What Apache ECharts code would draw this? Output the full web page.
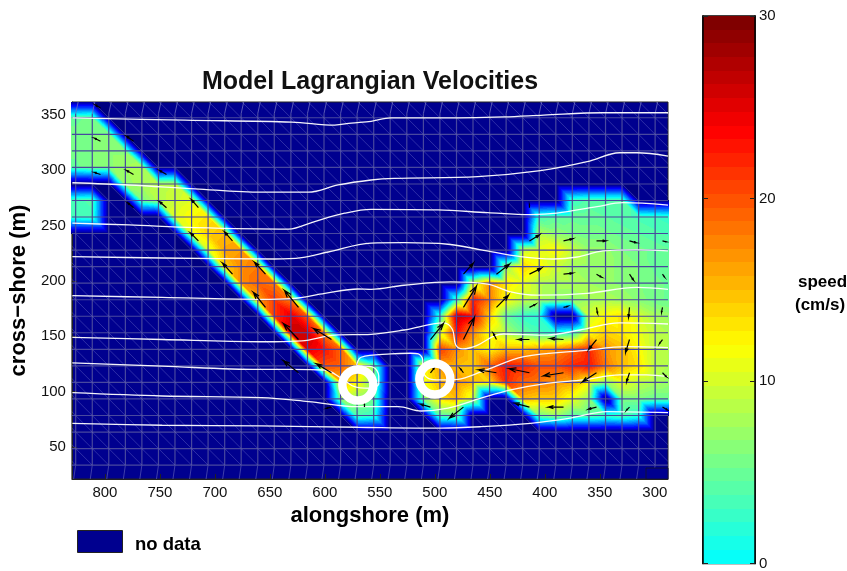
<!DOCTYPE html>
<html><head><meta charset="utf-8">
<style>html,body{margin:0;padding:0;background:#fff}#c{width:847px;height:571px}</style>
<script src="https://cdn.jsdelivr.net/npm/echarts@6/dist/echarts.min.js"></script>
</head><body><div id="c"></div>
<script>
// mesh nodes (m)
const xNodes=[841.6,826.6,811.5,796.5,781.4,766.4,751.3,736.3,721.2,706.2,691.1,676.1,661,646,630.9,615.8,600.8,585.7,570.7,555.6,540.6,525.5,510.4,495.4,480.3,465.3,450.2,435.2,420.1,405.1,390,375,359.9,344.8,329.8,314.7,299.7,284.6];
const yNodes=[362.1,347.2,332.2,317.3,302.4,287.4,272.5,257.6,242.7,227.7,212.8,197.9,182.9,168,153.1,138.1,123.2,108.3,93.4,78.4,63.5,48.6,33.6];
// speed (cm/s) per mesh row: segments of [first column, values...]; everything else is "no data"
const speedRows=[
 [],
 [[0,5,5,5.5]],
 [[0,5.5,5.5,6,6]],
 [[0,5.5,5.5,6,6.5,6.5]],
 [[0,5,5,6,6.5,7.5,8]],
 [[4,7,8,8.5,9]],
 [[0,3.5,3.5,4],[5,6,8.5,9.5,10.5],[31,3,4,4,4]],
 [[0,3,3,3.5],[7,10.5,12,13],[29,3.5,4.5,5,5,4.5,4,3.5,3,2.5]],
 [[8,11,14,15],[29,8.5,7,6,5.5,5.5,5,4.5,4,3.5]],
 [[9,10,16,16.5],[28,10,11,12,9.5,7,7,6,5.5,5,4.5]],
 [[10,14,17,18],[27,8,14,12,9.5,7.5,7,7,6.5,6,5,4.5]],
 [[11,17,19,18],[25,10,17,13,11,8.5,8,8,7.5,7,6.5,6,5.5,5]],
 [[12,16,21,18],[24,4,23,18,12,9,8.5,7,6.5,7.5,8,7.5,6.5,5.5,5]],
 [[13,21,25,20],[23,3,27,24,14,5,2.5,2],[32,10,12,13,10,8,7]],
 [[14,26,26,18],[23,10,23,17,11,8,5,3.5,2,3,12,14,13,11,9,8]],
 [[15,25,23,19],[23,21,17,14,12,15,15,16,17,19,22,17,15,12,9,8]],
 [[16,20,19,15,6],[22,12,16,15,14,19,23,22,20,20,22,23,18,15,13,9,8]],
 [[17,15,12,6],[22,11,15,17,15,14,22,19,18,17,16,12,7,11,9,8,7]],
 [[17,7,7,5],[22,6,13,15,10],[28,15,14,14,11,7],[34,6,6,5,5]],
 [[18,3.5,2.5],[23,4,5],[29,5,7,4,4,3,4,2]],
 [],[],[]
];
// depth contours: [alongshore m, cross-shore m]
const contour1=[[829.6,347],[727,345],[630,343.3],[591,340.6],[576,342.4],[558,344],[540,347],[497,347],[437,348],[401,349.6],[347,351.7],[288,351.7]];
const contour2=[[829.6,288.5],[778,286.5],[718,283],[657.5,280],[615,280],[588,286.5],[558,291],[537,292.5],[461,294],[404,299.4],[361.5,307.5],[332,315.6],[316.5,315.6],[288,312.6]];
const contour3=[[829.6,252],[778,250.4],[718,248],[633,246.7],[610,253.3],[582,261],[558,264.5],[497,264],[452,261.5],[413,259.7],[389,261],[352.5,267],[329,270.5],[288,268.4]];
const contour4=[[829.6,221.8],[748,220.6],[646,219.7],[621,221],[597,226],[558,234],[528,234.4],[488,233],[458,228],[422,221.8],[392,219.7],[370.5,221.5],[347,227],[316.5,228],[288,227]];
const contour5=[[829.6,186.6],[748,185],[660,183.3],[630,184],[600,188.7],[570,192.6],[558,192.3],[528,196],[485.5,199],[452,197],[431,190],[407,187],[361.5,188.7],[316.5,194],[288,192.3]];
const contour6=[[829.6,149],[748,147],[660,145],[646,145],[621,145.7],[591,151],[558,151.7],[528,155.6],[492,162],[484,156],[481,142],[474.5,138.5],[461,142],[446.5,150],[437.5,152],[398,151],[368,155.6],[332,162],[288,161]];
const contour7=[[829.6,126],[748,123],[660,120],[630,120],[600,119.5],[585,112],[573,104.4],[560,103],[551,107],[551,114],[556,122],[571,124],[567,131],[540,134],[522,134.6],[515,134],[511,128.5],[511,119.5],[506,112],[494.5,110.5],[479,111],[458,117.7],[419,131.5],[365,137],[325.5,140.5],[288,139.6]];
const contour8=[[829.6,99],[748,96],[657.5,94.5],[615,91],[570,86.4],[533,86.4],[512.5,82.5],[488,85],[458,94],[431,101.5],[398,107.5],[365,110.5],[332,115],[307.5,115],[288,113.5]];
const contour9=[[829.6,71.4],[748,69.6],[657.5,69],[570,67.8],[494.5,67],[458,68.3],[413,71.4],[377,76],[343.5,81.9],[288,81]];
// arrows: [x, y, dx, dy] in metres
const arrows=[[804,356,4.5,2.7],[804,326,5.4,2.7],[774,326,6.3,4.5],[804,296,5.4,1.8],[774,296,6.3,3.6],[744,296,6.3,3.6],[774,266,5.4,4.5],[744,266,6.3,5.4],[715,266,6.3,7.2],[715,236,7.2,7.2],[684,236,7.2,8.1],[684,206,9,10],[654,206,10,10.8],[654,176,10.9,13.5],[624,176,12.7,15.3],[624,147,13.6,14.4],[594,147,16.3,9.9],[624,117,13.6,10.8],[594,117,13.6,8.1],[594,86,4.5,-0.9],[564,86,0,2.7],[504,147,-11.8,14.4],[474,176,-11.8,19],[474,147,-10,19.9],[504,117,-3.6,4.5],[474,117,2.7,3.6],[504,86,9,2.7],[474,86,12.7,-9.9],[414,236,-9,5.4],[383,236,-8.2,1.8],[353,236,-8.2,0],[323,236,-6.3,-1.8],[293,236,-3.6,-0.9],[474,206,-9,9.9],[444,206,-11.8,9],[414,206,-10.9,5.4],[383,206,-8.2,0.9],[353,206,-4.5,-2.7],[323,206,-3.6,-5.4],[293,206,-1.8,-2.7],[444,176,-10.9,10.8],[414,176,-5.4,2.7],[383,176,-3.6,0.9],[353,176,-0.9,-5.4],[323,176,0.9,-9],[293,176,0.9,-4.5],[444,147,2.7,5.4],[414,147,10,0],[383,147,11.8,0.9],[353,147,7.2,-9],[323,147,3.6,-11.7],[293,147,2.7,-3.6],[444,117,16.3,2.7],[414,117,18.1,3.6],[383,117,18.1,-2.7],[353,117,12.7,-8.1],[323,117,2.7,-8.1],[293,117,-3.6,-3.6],[414,86,13.6,3.6],[383,86,13.6,0],[353,86,7.2,-1.8],[323,86,2.7,-2.7],[293,86,-4.5,-2.7],[414,266,0,2.7]];
const instruments=[[570,106],[500,111.4]];
const xTicks=[300,350,400,450,500,550,600,650,700,750,800];
const yTicks=[50,100,150,200,250,300,350];
const barTicks=[0,10,20,30];

// ---- colour
const NODATA='#00008F';
function clamp(v){return Math.max(0,Math.min(1,v));}
function jet(t){
  t=Math.min(63,Math.floor(t*64))/63;
  return [clamp(Math.min(4*t-1.5,-4*t+4.5)),clamp(Math.min(4*t-0.5,-4*t+3.5)),clamp(Math.min(4*t+0.5,-4*t+2.5))].map(c=>Math.round(c*255));
}
function speedToT(v){return v==null?0:0.375+0.625*v/30;}

// ---- expand the segments to a full table
const speed=speedRows.map(segs=>{
  const row=new Array(xNodes.length).fill(null);
  segs.forEach(s=>{for(let i=1;i<s.length;i++)row[s[0]+i-1]=s[i];});
  return row;
});
const cells=[],diag=[];
for(let r=0;r<yNodes.length-1;r++)for(let c=0;c<xNodes.length-1;c++){
  const a=speed[r][c],b=speed[r][c+1],d=speed[r+1][c],e=speed[r+1][c+1];
  if(a!=null||b!=null||d!=null||e!=null)cells.push([c,r]);
  if(a==null&&b==null&&e==null||a==null&&d==null&&e==null)diag.push([c,r]);
}
function renderCell(params,api){
  const c=api.value(0),r=api.value(1);
  const p0=api.coord([xNodes[c],yNodes[r]]),p1=api.coord([xNodes[c+1],yNodes[r+1]]);
  const x0=Math.round(p0[0]),y0=Math.round(p0[1]),w=Math.round(p1[0])-x0,h=Math.round(p1[1])-y0;
  const tl=speedToT(speed[r][c]),tr=speedToT(speed[r][c+1]),bl=speedToT(speed[r+1][c]),br=speedToT(speed[r+1][c+1]);
  const cv=document.createElement('canvas');cv.width=w;cv.height=h;
  const g=cv.getContext('2d'),im=g.createImageData(w,h);
  for(let j=0;j<h;j++)for(let i=0;i<w;i++){
    const u=(i+.5)/w,v=(j+.5)/h;
    const t=u>v? tl+u*(tr-tl)+v*(br-tr) : tl+v*(bl-tl)+u*(br-bl);
    const col=jet(t),k=4*(j*w+i);
    im.data[k]=col[0];im.data[k+1]=col[1];im.data[k+2]=col[2];im.data[k+3]=255;
  }
  g.putImageData(im,0,0);
  return {type:'image',style:{image:cv,x:x0,y:y0,width:w,height:h}};
}
const LINE='rgb(72,72,158)';
function seg(a,b,stroke,lw){return {type:'line',shape:{x1:a[0],y1:a[1],x2:b[0],y2:b[1]},style:{stroke:stroke,lineWidth:lw,fill:null}};}
const XMIN=288,XMAX=830,YMIN=21.1,YMAX=361.4;
const meshItems=[];
xNodes.forEach((_,i)=>meshItems.push([0,i,0]));
yNodes.forEach((_,j)=>meshItems.push([1,j,0]));
diag.forEach(d=>meshItems.push([2,d[0],d[1]]));
function renderMesh(params,api){
  const kind=api.value(0);
  if(kind===0){
    const x=xNodes[api.value(1)];
    const a=api.coord([x,351]),b=api.coord([x,yNodes[22]]);
    const top=api.coord([x,YMAX]),bot=api.coord([x,YMIN]);
    return {type:'group',children:[seg(a,b,LINE,1.2),seg(a,[top[0]+2.5,top[1]],'rgba(110,110,190,.8)',1),seg(b,[bot[0]-2,bot[1]],'rgba(90,90,180,.7)',1)]};
  }
  if(kind===1){
    const y=yNodes[api.value(1)];
    return seg(api.coord([XMAX,y]),api.coord([XMIN,y]),LINE,1.2);
  }
  const c=api.value(1),r=api.value(2);
  return seg(api.coord([xNodes[c],yNodes[r]]),api.coord([xNodes[c+1],yNodes[r+1]]),'rgba(130,130,210,.45)',0.8);
}
function renderArrow(params,api){
  const x=api.value(0),y=api.value(1),a=api.coord([x,y]),b=api.coord([x+api.value(2),y+api.value(3)]);
  const dx=b[0]-a[0],dy=b[1]-a[1],al=.33,be=.33;
  const p1=[b[0]-al*(dx+be*dy),b[1]-al*(dy-be*dx)],p2=[b[0]-al*(dx-be*dy),b[1]-al*(dy+be*dx)];
  return {type:'polyline',shape:{points:[a,b,p1,b,p2]},style:{stroke:'#000',lineWidth:1.2,fill:null}};
}
function renderScaleBox(params,api){
  const a=api.coord([api.value(0),api.value(1)]),b=api.coord([XMIN,YMIN]);
  return {type:'rect',shape:{x:a[0],y:a[1],width:b[0]-a[0],height:b[1]-a[1]},style:{fill:NODATA,stroke:'#10103a',lineWidth:1}};
}
// colour bar bands
const barLevels=[];
for(let i=0;i<40;i++)barLevels.push([i*0.75,(i+1)*0.75]);
function renderBar(params,api){
  const a=api.coord([0,api.value(1)]),b=api.coord([1,api.value(0)]);
  const col=jet(speedToT((api.value(0)+api.value(1))/2));
  const y0=Math.round(a[1]),y1=Math.round(b[1]);
  return {type:'rect',shape:{x:a[0],y:y0,width:b[0]-a[0],height:y1-y0},style:{fill:'rgb('+col.join(',')+')'}};
}
const FONT='"Liberation Sans", Arial, sans-serif';
const contours=[contour1,contour2,contour3,contour4,contour5,contour6,contour7,contour8,contour9];
const chart=echarts.init(document.getElementById('c'),null,{renderer:'canvas'});
chart.setOption({
  animation:false,
  backgroundColor:'#fff',
  textStyle:{fontFamily:FONT},
  title:{text:'Model Lagrangian Velocities',left:365,top:65,textAlign:'center',textStyle:{fontFamily:FONT,fontSize:25,fontWeight:'bold',color:'#111'}},
  grid:[
    {left:69.5,top:102,width:598.5,height:377,show:true,backgroundColor:NODATA,borderColor:'#222',borderWidth:1,containLabel:false},
    {left:703,top:16,width:52,height:550,show:true,backgroundColor:'#fff',borderColor:'#000',borderWidth:1.5}
  ],
  xAxis:[
    {gridIndex:0,type:'value',inverse:true,min:XMIN,max:XMAX,splitLine:{show:false},
     axisLine:{show:true,onZero:false,lineStyle:{color:'#222'}},
     axisTick:{show:true,inside:true,length:5,customValues:xTicks,lineStyle:{color:'#222'}},
     axisLabel:{customValues:xTicks,fontSize:15,color:'#111',margin:6,fontFamily:FONT},
     name:'alongshore (m)',nameLocation:'center',nameGap:26,nameTextStyle:{fontSize:22,fontWeight:'bold',color:'#000',fontFamily:FONT}},
    {gridIndex:1,type:'value',min:0,max:1,show:false}
  ],
  yAxis:[
    {gridIndex:0,type:'value',min:YMIN,max:YMAX,splitLine:{show:false},
     axisLine:{show:true,onZero:false,lineStyle:{color:'#222'}},
     axisTick:{show:true,inside:true,length:5,customValues:yTicks,lineStyle:{color:'#222'}},
     axisLabel:{customValues:yTicks,fontSize:15,color:'#111',margin:6,fontFamily:FONT},
     name:'cross\u2212shore (m)',nameLocation:'center',nameGap:33,nameRotate:90,nameTextStyle:{fontSize:22,fontWeight:'bold',color:'#000',fontFamily:FONT}},
    {gridIndex:1,type:'value',position:'right',min:0,max:30,splitLine:{show:false},z:5,
     axisLine:{show:true,onZero:false,lineStyle:{color:'#000',width:1.5}},
     axisTick:{show:true,inside:true,length:5,customValues:barTicks,lineStyle:{color:'#222'}},
     axisLabel:{customValues:barTicks,fontSize:15,color:'#111',margin:4,fontFamily:FONT}},
    {gridIndex:1,type:'value',position:'left',min:0,max:30,splitLine:{show:false},z:5,
     axisLine:{show:true,onZero:false,lineStyle:{color:'#000',width:1.5}},
     axisTick:{show:true,inside:true,length:5,customValues:barTicks,lineStyle:{color:'#222'}},
     axisLabel:{show:false}}
  ],
  series:[
    {name:'speed',type:'custom',xAxisIndex:0,yAxisIndex:0,coordinateSystem:'cartesian2d',clip:true,silent:true,z:2,renderItem:renderCell,data:cells,encode:{x:-1,y:-1}},
    {name:'mesh',type:'custom',xAxisIndex:0,yAxisIndex:0,coordinateSystem:'cartesian2d',clip:true,silent:true,z:3,renderItem:renderMesh,data:meshItems,encode:{x:-1,y:-1}},
    {name:'scale',type:'custom',xAxisIndex:0,yAxisIndex:0,clip:true,silent:true,z:4,renderItem:renderScaleBox,data:[[308,31]],encode:{x:0,y:1}},
    ...contours.map((c,i)=>({name:'contour '+(i+1),type:'line',xAxisIndex:0,yAxisIndex:0,data:c,showSymbol:false,symbol:'none',smooth:0.35,silent:true,z:5,lineStyle:{color:'rgba(255,255,255,.95)',width:1.3}})),
    {name:'velocity',type:'custom',xAxisIndex:0,yAxisIndex:0,clip:true,silent:true,z:6,renderItem:renderArrow,data:arrows,encode:{x:0,y:1}},
    {name:'instruments',type:'scatter',xAxisIndex:0,yAxisIndex:0,symbol:'circle',symbolSize:31,silent:true,z:7,itemStyle:{color:'rgba(0,0,0,0)',borderColor:'#fff',borderWidth:8.5,opacity:1},data:instruments},
    {name:'colorbar',type:'custom',xAxisIndex:1,yAxisIndex:1,silent:true,z:2,renderItem:renderBar,data:barLevels,encode:{y:[0,1]}}
  ],
  graphic:[
    {type:'rect',left:77,top:530,shape:{width:45,height:22},style:{fill:NODATA,stroke:'#222',lineWidth:1},silent:true},
    {type:'text',left:135,top:535,style:{text:'no data',fontFamily:FONT,fontSize:18.5,fontWeight:'bold',fill:'#000'},silent:true},
    {type:'text',left:798,top:274,style:{text:'speed',fontFamily:FONT,fontSize:17,fontWeight:'bold',fill:'#000'},silent:true},
    {type:'text',left:795,top:297,style:{text:'(cm/s)',fontFamily:FONT,fontSize:17,fontWeight:'bold',fill:'#000'},silent:true}
  ]
});
</script></body></html>
